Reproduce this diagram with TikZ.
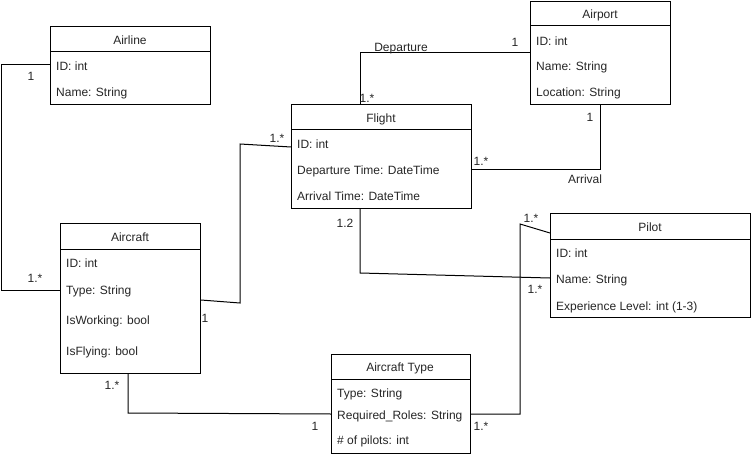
\documentclass[tikz,border=0pt]{standalone}
\usepackage{fontspec}
\setmainfont{Liberation Sans}
\begin{document}
\begin{tikzpicture}[x=1pt,y=-1pt,
  every node/.style={font=\fontsize{12}{14}\selectfont, text=black!85},
  clsbox/.style={draw=black, line width=1pt, anchor=north west, inner sep=0pt, fill=white},
  attr/.style={anchor=west, inner sep=0pt, text height=11pt, text depth=0pt},
  ttl/.style={inner sep=0pt, text height=11pt, text depth=0pt},
  mult/.style={inner sep=0pt, text height=11pt, text depth=0pt},
  conn/.style={draw=black, line width=1pt}]
\useasboundingbox (0,0) rectangle (751,457);

% ---------- helper coordinates for connector bends ----------
\coordinate (c1) at (1,290);
\coordinate (c1a) at (1,65);
\coordinate (k1) at (240,303);
\coordinate (k2) at (240,144);
\coordinate (k3) at (291,147);
\coordinate (k4) at (360,208);
\coordinate (k5) at (360,273);
\coordinate (k6) at (520,414);
\coordinate (k7) at (520,224);
\coordinate (k8) at (550,233);
\coordinate (k9) at (128,373);
\coordinate (k10) at (128,413);

% ---------- classes ----------
% Airline
\node[clsbox, minimum width=160pt, minimum height=78pt] (airline) at (50,26) {};
\draw[line width=1pt] (50,52) -- (210,52);
\node[ttl] (airlineT) at (130,39) {Airline};
\node[attr] (al1) at (56,65) {ID: int};
\node[attr] (al2) at (56,91) {Name: String};

% Airport
\node[clsbox, minimum width=140pt, minimum height=103pt] (airport) at (530,1) {};
\draw[line width=1pt] (530,26) -- (670,26);
\node[ttl] (airportT) at (600,13) {Airport};
\node[attr] (ap1) at (536,40) {ID: int};
\node[attr] (ap2) at (536,65) {Name: String};
\node[attr] (ap3) at (536,91) {Location: String};

% Flight
\node[clsbox, minimum width=180pt, minimum height=104pt] (flight) at (291,104) {};
\draw[line width=1pt] (291,130) -- (471,130);
\node[ttl] (flightT) at (381,117) {Flight};
\node[attr] (f1) at (297,143) {ID: int};
\node[attr] (f2) at (297,169) {Departure Time: DateTime};
\node[attr] (f3) at (297,195) {Arrival Time: DateTime};

% Aircraft
\node[clsbox, minimum width=140pt, minimum height=150pt] (aircraft) at (60,223) {};
\draw[line width=1pt] (60,249) -- (200,249);
\node[ttl] (aircraftT) at (130,236) {Aircraft};
\node[attr] (ac1) at (66,262) {ID: int};
\node[attr] (ac2) at (66,289) {Type: String};
\node[attr] (ac3) at (66,319) {IsWorking: bool};
\node[attr] (ac4) at (66,350) {IsFlying: bool};

% Pilot
\node[clsbox, minimum width=200pt, minimum height=104pt] (pilot) at (550,213) {};
\draw[line width=1pt] (550,239) -- (750,239);
\node[ttl] (pilotT) at (650,226) {Pilot};
\node[attr] (p1) at (556,252) {ID: int};
\node[attr] (p2) at (556,278) {Name: String};
\node[attr] (p3) at (556,305) {Experience Level: int (1-3)};

% Aircraft Type
\node[clsbox, minimum width=139pt, minimum height=99pt] (actype) at (331,354) {};
\draw[line width=1pt] (331,379) -- (470,379);
\node[ttl] (actypeT) at (400,366) {Aircraft Type};
\node[attr] (t1) at (337,392) {Type: String};
\node[attr] (t2) at (337,414) {Required\_Roles: String};
\node[attr] (t3) at (337,439) {\# of pilots: int};

% ---------- connectors ----------
\draw[conn] (airline.west |- al1) -- (c1a) -- (c1) -- (aircraft.west |- c1);
\draw[conn] (flight.north -| k4) |- (airport.west);
\draw[conn] (flight.east |- f2) -| (airport.south);
\draw[conn] (aircraft.east |- 0,300) -- (k1) -- (k2) -- (k3);
\draw[conn] (k4) -- (k5) -- (pilot.west |- p2);
\draw[conn] (actype.east |- t2) -- (k6) -- (k7) -- (k8);
\draw[conn] (k9) -- (k10) -- (actype.west |- t2);

% ---------- multiplicities and role labels ----------
\node[mult] (m1) at (31,75) {1};
\node[mult] (m2) at (35,277) {1.*};
\node[mult] (m3) at (401,46) {Departure};
\node[mult] (m4) at (515,41) {1};
\node[mult] (m5) at (367,97) {1.*};
\node[mult] (m6) at (590,116) {1};
\node[mult] (m7) at (481,160) {1.*};
\node[mult] (m8) at (585,178) {Arrival};
\node[mult] (m9) at (205,317) {1};
\node[mult] (m10) at (277,137) {1.*};
\node[mult] (m11) at (345,222) {1.2};
\node[mult] (m12) at (535,288) {1.*};
\node[mult] (m13) at (531,217) {1.*};
\node[mult] (m14) at (481,425) {1.*};
\node[mult] (m15) at (112,384) {1.*};
\node[mult] (m16) at (315,425) {1};
\end{tikzpicture}
\end{document}
